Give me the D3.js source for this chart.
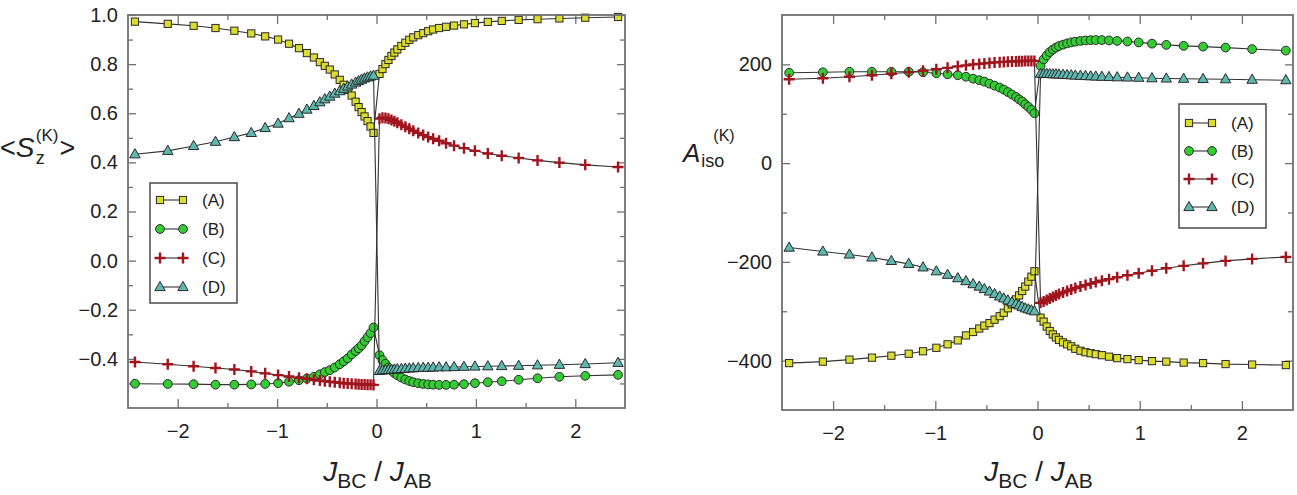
<!DOCTYPE html>
<html><head><meta charset="utf-8">
<script src="https://cdn.jsdelivr.net/npm/d3@7"></script>
<style>
body{margin:0;background:#fff}
svg{display:block}
text{font-family:"Liberation Sans",Arial,Helvetica,sans-serif;fill:#222}
</style>
</head><body>
<svg id="chart" width="1297" height="495"></svg>
<script>
// ---------- data ----------
const xValues = [-2.43,-2.10,-1.84,-1.62,-1.43,-1.26,-1.12,-0.99,-0.88,-0.78,-0.70,-0.63,-0.57,-0.52,-0.47,-0.42,-0.37,-0.33,-0.29,-0.25,-0.21,-0.18,-0.15,-0.12,-0.09,-0.06,-0.03,
                 0.03,0.06,0.09,0.12,0.15,0.18,0.21,0.25,0.29,0.33,0.37,0.42,0.47,0.52,0.57,0.63,0.70,0.78,0.88,0.99,1.12,1.26,1.43,1.62,1.84,2.10,2.43];
const seriesLabels = ["(A)","(B)","(C)","(D)"];

// <S_z^(K)>
const spinA = [0.973,0.964,0.956,0.947,0.936,0.925,0.913,0.900,0.883,0.865,0.845,0.827,0.808,0.793,0.778,0.758,0.736,0.716,0.695,0.672,0.647,0.625,0.605,0.587,0.568,0.546,0.520,
               0.760,0.780,0.800,0.817,0.833,0.847,0.860,0.874,0.887,0.899,0.909,0.918,0.926,0.934,0.941,0.947,0.952,0.957,0.962,0.967,0.972,0.976,0.980,0.983,0.986,0.989,0.992];
const spinB = [-0.501,-0.502,-0.503,-0.505,-0.505,-0.504,-0.502,-0.499,-0.493,-0.487,-0.480,-0.473,-0.463,-0.454,-0.446,-0.435,-0.422,-0.410,-0.398,-0.382,-0.368,-0.357,-0.345,-0.328,-0.312,-0.295,-0.272,
               -0.385,-0.405,-0.420,-0.435,-0.447,-0.458,-0.467,-0.476,-0.484,-0.490,-0.495,-0.499,-0.502,-0.504,-0.505,-0.506,-0.506,-0.505,-0.503,-0.499,-0.495,-0.491,-0.485,-0.479,-0.473,-0.469,-0.465];
const spinC = [-0.413,-0.422,-0.430,-0.437,-0.443,-0.451,-0.459,-0.466,-0.472,-0.477,-0.481,-0.485,-0.488,-0.491,-0.493,-0.495,-0.497,-0.499,-0.500,-0.501,-0.502,-0.503,-0.504,-0.504,-0.505,-0.505,-0.506,
               0.578,0.582,0.581,0.578,0.573,0.567,0.561,0.553,0.545,0.537,0.529,0.520,0.511,0.503,0.496,0.488,0.478,0.468,0.458,0.447,0.436,0.427,0.418,0.408,0.399,0.390,0.381];
const spinD = [0.433,0.447,0.467,0.484,0.503,0.520,0.540,0.558,0.580,0.598,0.615,0.630,0.645,0.657,0.668,0.680,0.690,0.700,0.709,0.717,0.725,0.731,0.737,0.742,0.746,0.750,0.753,
               -0.449,-0.447,-0.446,-0.445,-0.444,-0.443,-0.442,-0.441,-0.440,-0.439,-0.438,-0.437,-0.436,-0.436,-0.435,-0.434,-0.434,-0.433,-0.432,-0.431,-0.430,-0.429,-0.428,-0.426,-0.424,-0.421,-0.416];

// A_iso^(K)
const aisoA = [-405,-402,-398,-394,-390,-386,-381,-374,-367,-359,-349,-342,-335,-329,-324,-317,-310,-303,-294,-286,-276,-268,-259,-250,-240,-230,-219,
               -313,-321,-331,-340,-347,-353,-358,-363,-367,-371,-376,-380,-383,-385,-387,-389,-392,-395,-397,-399,-401,-402,-404,-405,-407,-408,-409];
const aisoB = [183,184,185,185,185,185,184,182,180,178,175,171,168,165,161,157,153,149,144,139,134,129,125,119,114,108,101,
               197,210,218,225,230,234,237,240,242.5,244.5,246,247.5,248.5,249,249.3,249.3,248.5,247.5,246.3,244.5,242,239.5,237.5,236,234,231,228];
const aisoC = [170,172,175,178,181,184,187,190,193,196,198,200,201,202,203,204,204.5,205,205.5,206,206,206.5,206.5,207,207,207,207,
               -283,-280,-277,-274,-271,-268,-265,-262,-259,-256,-253,-250,-247,-244,-241,-238,-235,-231,-227,-223,-218,-213,-208,-203,-198,-194,-190];
const aisoD = [-171,-179,-185,-191,-198,-204,-211,-219,-226,-233,-239,-245,-250,-255,-260,-265,-270,-274,-278,-282,-285,-288,-291,-294,-296,-298,-300,
               181,181,181,180.5,180,180,179.5,179,178.5,178,177.5,177,176.5,176,175.5,175,174.5,174,173.5,173,172,171.5,171,170.5,170,169,168];

const xTicks = [-2,-1,0,1,2];
const xMinorTicks = [-1.5,-0.5,0.5,1.5];
const spinTicks = [-0.4,-0.2,0.0,0.2,0.4,0.6,0.8,1.0];
const spinMinorTicks = [-0.5,-0.3,-0.1,0.1,0.3,0.5,0.7,0.9];
const aisoTicks = [-400,-200,0,200];
const aisoMinorTicks = [-300,-100,100];

// ---------- styles ----------
const markerStyles = [
  {shape:"square",   fill:"#dcdc2c"},
  {shape:"circle",   fill:"#33cc33"},
  {shape:"plus",     fill:"#a0141e"},
  {shape:"triangle", fill:"#5db8b0"}
];
const OUT = "#2a2a2a";
const FRAME = "#707070";

const svg = d3.select("#chart");

function drawMarker(g, shape, fill, cx, cy) {
  if (shape === "square") {
    g.append("rect").attr("x", cx-3.6).attr("y", cy-3.6).attr("width", 7.2).attr("height", 7.2)
      .attr("fill", fill).attr("stroke", OUT).attr("stroke-width", 1);
  } else if (shape === "circle") {
    g.append("circle").attr("cx", cx).attr("cy", cy).attr("r", 4.4)
      .attr("fill", fill).attr("stroke", OUT).attr("stroke-width", 1);
  } else if (shape === "plus") {
    g.append("path").attr("d", `M${cx-5.5},${cy}H${cx+5.5}M${cx},${cy-5.5}V${cy+5.5}`)
      .attr("stroke", fill).attr("stroke-width", 2.4).attr("fill", "none");
  } else {
    g.append("path").attr("d", `M${cx},${cy-5.6}L${cx+5.2},${cy+3.6}L${cx-5.2},${cy+3.6}Z`)
      .attr("fill", fill).attr("stroke", OUT).attr("stroke-width", 1).attr("stroke-linejoin","round");
  }
}

function panel(cfg) {
  const x = d3.scaleLinear().domain([-2.5, 2.5]).range([cfg.x0, cfg.x1]);
  const y = d3.scaleLinear().domain(cfg.yDomain).range([cfg.y1, cfg.y0]);
  const g = svg.append("g");
  const w = cfg.x1 - cfg.x0, h = cfg.y1 - cfg.y0;

  const fontSize = 20;
  const styleAxis = (sel) => {
    sel.select(".domain").remove();
    sel.selectAll(".tick line").attr("stroke", FRAME).attr("stroke-width", 1.3);
    sel.selectAll(".tick text").attr("font-size", fontSize).attr("fill", "#333")
       .style("font-family", '"Liberation Sans",Arial,sans-serif');
  };
  g.append("g").attr("transform", `translate(0,${cfg.y1})`)
    .call(d3.axisBottom(x).tickValues(xTicks).tickSize(-9).tickPadding(16).tickFormat(d3.format("d"))).call(styleAxis);
  g.append("g").attr("transform", `translate(0,${cfg.y1})`)
    .call(d3.axisBottom(x).tickValues(xMinorTicks).tickSize(-5).tickFormat("")).call(styleAxis);
  g.append("g").attr("transform", `translate(0,${cfg.y0})`)
    .call(d3.axisTop(x).tickValues(xTicks).tickSize(-9).tickFormat("")).call(styleAxis);
  g.append("g").attr("transform", `translate(0,${cfg.y0})`)
    .call(d3.axisTop(x).tickValues(xMinorTicks).tickSize(-5).tickFormat("")).call(styleAxis);

  g.append("g").attr("transform", `translate(${cfg.x0},0)`)
    .call(d3.axisLeft(y).tickValues(cfg.yTicks).tickSize(-8).tickPadding(10).tickFormat(cfg.yFormat)).call(styleAxis);
  g.append("g").attr("transform", `translate(${cfg.x0},0)`)
    .call(d3.axisLeft(y).tickValues(cfg.yMinor).tickSize(-5).tickFormat("")).call(styleAxis);
  g.append("g").attr("transform", `translate(${cfg.x1},0)`)
    .call(d3.axisRight(y).tickValues(cfg.yTicks).tickSize(-8).tickFormat("")).call(styleAxis);
  g.append("g").attr("transform", `translate(${cfg.x1},0)`)
    .call(d3.axisRight(y).tickValues(cfg.yMinor).tickSize(-5).tickFormat("")).call(styleAxis);

  const line = d3.line().x(d => x(d[0])).y(d => y(d[1]));
  cfg.series.forEach((vals, i) => {
    const pts = xValues.map((xv, k) => [xv, vals[k]]);
    g.append("path").attr("d", line(pts)).attr("fill", "none").attr("stroke", "#333").attr("stroke-width", 1.1);
    const mg = g.append("g");
    pts.forEach(p => drawMarker(mg, markerStyles[i].shape, markerStyles[i].fill, x(p[0]), y(p[1])));
  });

  g.append("rect").attr("x", cfg.x0).attr("y", cfg.y0).attr("width", w).attr("height", h)
    .attr("fill", "none").attr("stroke", FRAME).attr("stroke-width", 1.8);

  const L = cfg.legend;
  const lg = g.append("g");
  lg.append("rect").attr("x", L.x).attr("y", L.y).attr("width", L.w).attr("height", L.h)
    .attr("fill", "#fff").attr("stroke", "#555").attr("stroke-width", 1.6);
  seriesLabels.forEach((lab, i) => {
    const ry = L.y + L.first + i * L.step;
    const lx1 = L.x + 10, lx2 = L.x + 33;
    lg.append("line").attr("x1", lx1).attr("x2", lx2).attr("y1", ry).attr("y2", ry)
      .attr("stroke", "#333").attr("stroke-width", 1.1);
    drawMarker(lg, markerStyles[i].shape, markerStyles[i].fill, lx1, ry);
    drawMarker(lg, markerStyles[i].shape, markerStyles[i].fill, lx2, ry);
    lg.append("text").attr("x", L.x + 52).attr("y", ry + 6).attr("font-size", 17).text(lab);
  });

  const xt = g.append("text").attr("x", (cfg.x0 + cfg.x1) / 2 + 1).attr("y", 481)
    .attr("text-anchor", "middle").attr("font-size", 28);
  xt.append("tspan").attr("font-style", "italic").text("J");
  xt.append("tspan").attr("font-size", 21).attr("dy", 7).text("BC");
  xt.append("tspan").attr("dy", -7).text(" / ");
  xt.append("tspan").attr("font-style", "italic").text("J");
  xt.append("tspan").attr("font-size", 21).attr("dy", 7).text("AB");
  return g;
}

panel({
  x0: 128, x1: 625, y0: 15, y1: 408,
  yDomain: [-0.6, 1.0], yTicks: spinTicks, yMinor: spinMinorTicks, yFormat: d3.format(".1f"),
  series: [spinA, spinB, spinC, spinD],
  legend: {x: 150, y: 183, w: 87, h: 120, first: 17, step: 29}
});
panel({
  x0: 782, x1: 1293, y0: 15, y1: 410,
  yDomain: [-500, 300], yTicks: aisoTicks, yMinor: aisoMinorTicks, yFormat: d3.format("d"),
  series: [aisoA, aisoB, aisoC, aisoD],
  legend: {x: 1179, y: 104, w: 87, h: 124, first: 19, step: 28}
});

// ---------- y titles (laid out side by side so they never overlap) ----------
function place(g, x, y, size, txt, italic) {
  const t = g.append("text").attr("x", x).attr("y", y).attr("font-size", size).text(txt);
  if (italic) t.attr("font-style", "italic");
  return t;
}
const right = n => { const b = n.node().getBBox(); return b.x + b.width; };
const t1 = svg.append("g");
const lt = place(t1, 0, 157, 27, "<");
const sS = place(t1, right(lt), 157, 28, "S", true);
const sEnd = right(sS) + 1;
const zT = place(t1, sEnd, 164, 18, "z");
const kT = place(t1, sEnd, 141, 17, "(K)");
place(t1, Math.max(right(kT), right(zT)) + 1, 157, 27, ">");

const t2 = svg.append("g");
const aT = place(t2, 683, 162, 26, "A", true);
const aEnd = right(aT) + 1;
place(t2, aEnd, 167, 18, "iso");
place(t2, aEnd + 12, 141, 16, "(K)");
</script>
</body></html>
